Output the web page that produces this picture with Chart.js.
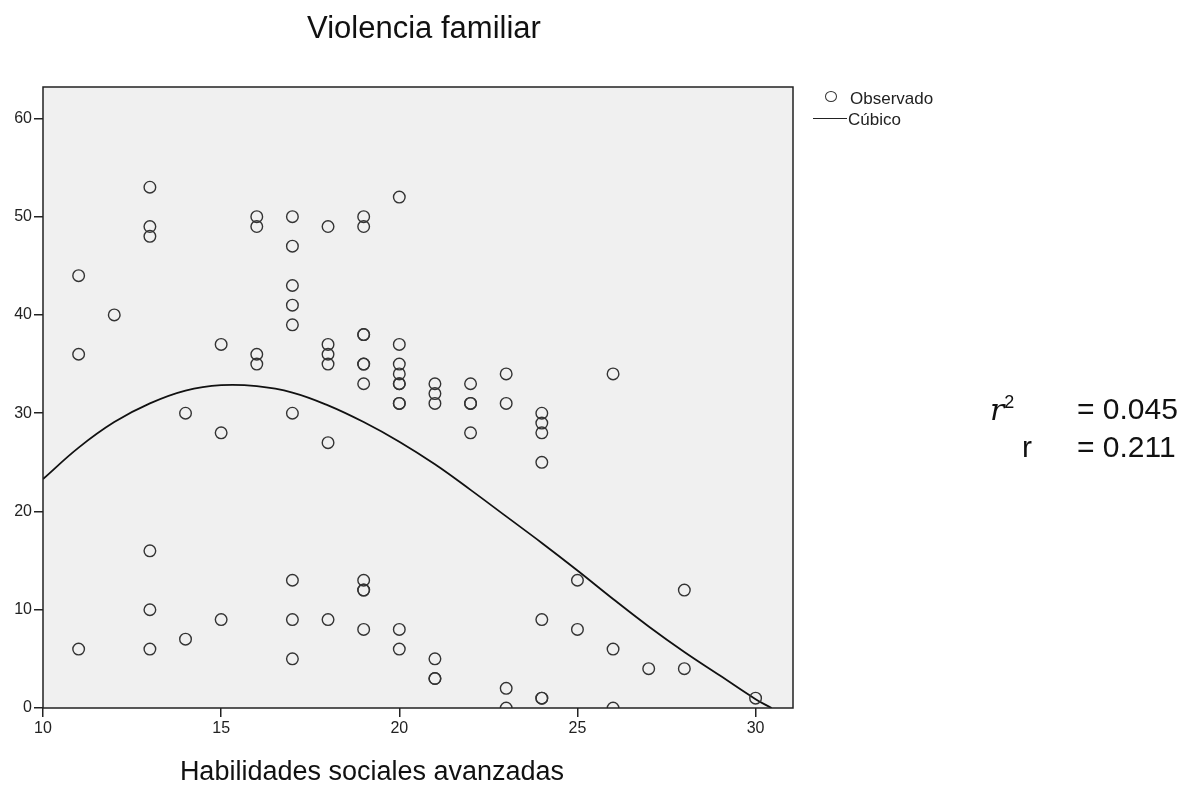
<!DOCTYPE html>
<html>
<head>
<meta charset="utf-8">
<script src="https://cdn.jsdelivr.net/npm/chart.js@4/dist/chart.umd.min.js"></script>
<style>
  html, body { margin: 0; padding: 0; background: #fff; }
  #wrap { position: relative; width: 1193px; height: 792px; font-family: "Liberation Sans", Arial, sans-serif; color: #111; }
  canvas { position: absolute; left: 0; top: 0; }
  .txt { position: absolute; white-space: nowrap; line-height: 1; }
  #title { left: 424px; top: 27px; transform: translate(-50%, -50%); font-size: 31px; }
  #xtitle { left: 372px; top: 771px; transform: translate(-50%, -50%); font-size: 27px; }
  .stat { font-size: 30px; transform: translateY(-50%); }
  .stat i { font-family: "DejaVu Serif", "Liberation Serif", serif; }
  .stat sup { font-size: 18px; vertical-align: 12px; }
  .leg { font-size: 17px; color: #222; transform: translateY(-50%); }
  #legCircle { position: absolute; left: 825px; top: 91px; width: 10px; height: 9px; border: 1.5px solid #333; border-radius: 50%; }
  #legLine { position: absolute; left: 813px; top: 118px; width: 34px; height: 0; border-top: 1.6px solid #222; }
</style>
</head>
<body>
<div id="wrap">
  <canvas id="chart" width="1193" height="792"></canvas>
  <div class="txt" id="title">Violencia familiar</div>
  <div class="txt" id="xtitle">Habilidades sociales avanzadas</div>
  <div id="legCircle"></div>
  <div class="txt leg" style="left:850px; top:98px;">Observado</div>
  <div id="legLine"></div>
  <div class="txt leg" style="left:848px; top:119px;">Cúbico</div>
  <div class="txt stat" style="left:990px; top:409px;"><i>r</i><sup>2</sup></div>
  <div class="txt stat" style="left:1077px; top:409px;">= 0.045</div>
  <div class="txt stat" style="left:1022px; top:447px;">r</div>
  <div class="txt stat" style="left:1077px; top:447px;">= 0.211</div>
</div>
<script>
// observed points (x = habilidades, y = violencia), duplicates kept
const obsX = [11, 11, 11, 12, 13, 13, 13, 13, 13, 13, 14, 14, 15, 15, 15,
  16, 16, 16, 16,
  17, 17, 17, 17, 17, 17, 17, 17, 17,
  18, 18, 18, 18, 18, 18,
  19, 19, 19, 19, 19, 19, 19, 19, 19, 19, 19,
  20, 20, 20, 20, 20, 20, 20, 20, 20, 20,
  21, 21, 21, 21, 21, 21,
  22, 22, 22, 22,
  23, 23, 23, 23,
  24, 24, 24, 24, 24, 24, 24,
  25, 25, 26, 26, 26, 27, 28, 28, 30];
const obsY = [44, 36, 6, 40, 53, 49, 48, 16, 10, 6, 30, 7, 37, 28, 9,
  50, 49, 36, 35,
  50, 47, 43, 41, 39, 30, 13, 9, 5,
  49, 37, 36, 35, 27, 9,
  50, 49, 38, 38, 35, 35, 33, 13, 12, 12, 8,
  52, 37, 35, 34, 33, 33, 31, 31, 8, 6,
  33, 32, 31, 5, 3, 3,
  33, 31, 31, 28,
  34, 31, 2, 0,
  30, 29, 28, 25, 9, 1, 1,
  13, 8, 34, 6, 0, 4, 12, 4, 1];

// cubic fit line
const curveX = [10, 11, 12, 13, 14, 15, 16, 17, 18, 19, 20, 21, 22, 23, 24, 25, 26, 27, 28, 29, 30, 30.45];
const curveY = [23.3, 26.5, 29.1, 31.0, 32.3, 32.85, 32.75, 32.1, 30.8, 29.1, 27.1, 24.8, 22.2, 19.5, 16.8, 14.0, 11.1, 8.3, 5.7, 3.3, 0.9, 0];

const xTicks = [10, 15, 20, 25, 30];
const yTicks = [0, 10, 20, 30, 40, 50, 60];

const ink = '#222';

// plot background and frame
const framePlugin = {
  id: 'frame',
  beforeDraw(chart) {
    const a = chart.chartArea, c = chart.ctx;
    c.save();
    c.fillStyle = '#f0f0f0';
    c.fillRect(a.left, a.top, a.right - a.left, a.bottom - a.top);
    c.restore();
  },
  afterDraw(chart) {
    const a = chart.chartArea, c = chart.ctx;
    c.save();
    c.strokeStyle = ink;
    c.lineWidth = 1.5;
    c.strokeRect(a.left, a.top, a.right - a.left, a.bottom - a.top);
    c.restore();
  }
};

const axisStyle = (ticks, width, height) => ({
  type: 'linear',
  afterBuildTicks: ax => { ax.ticks = ticks.map(v => ({ value: v })); },
  afterFit: ax => { if (width) ax.width = width; if (height) ax.height = height; },
  ticks: { color: ink, font: { family: 'Liberation Sans', size: 16 }, padding: 2 },
  grid: { drawOnChartArea: false, drawTicks: true, tickLength: 9, color: ink, lineWidth: 1.5 },
  border: { display: false }
});

new Chart(document.getElementById('chart'), {
  type: 'scatter',
  data: {
    datasets: [
      {
        label: 'Observado',
        data: obsX.map((x, i) => ({ x: x, y: obsY[i] })),
        pointStyle: 'circle',
        pointRadius: 5.8,
        pointBorderWidth: 1.4,
        pointBackgroundColor: 'rgba(0,0,0,0)',
        pointBorderColor: '#333',
        showLine: false
      },
      {
        label: 'Cúbico',
        type: 'line',
        data: curveX.map((x, i) => ({ x: x, y: curveY[i] })),
        borderColor: '#111',
        borderWidth: 1.8,
        pointRadius: 0,
        fill: false,
        tension: 0.4
      }
    ]
  },
  options: {
    responsive: false,
    animation: false,
    layout: { padding: { left: 0, top: 87, right: 400, bottom: 0 } },
    plugins: { legend: { display: false }, tooltip: { enabled: false } },
    scales: {
      x: Object.assign(axisStyle(xTicks, 0, 84), { min: 10, max: 31.05 }),
      y: Object.assign(axisStyle(yTicks, 43, 0), { min: 0, max: 63.2 })
    }
  },
  plugins: [framePlugin]
});
</script>
</body>
</html>
